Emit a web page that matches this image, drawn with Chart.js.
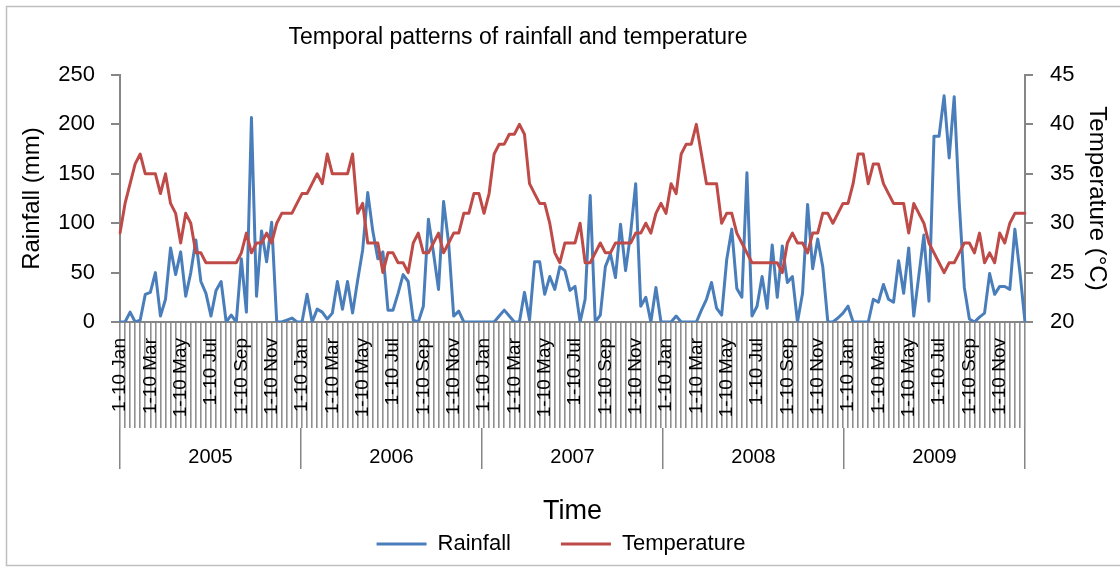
<!DOCTYPE html>
<html>
<head>
<meta charset="utf-8">
<script src="https://cdn.jsdelivr.net/npm/chart.js@4"></script>
<style>
  html, body { margin: 0; padding: 0; background: #fff; }
  #wrap { width: 1120px; height: 567px; position: relative; }
</style>
</head>
<body>
<div id="wrap"><canvas id="climateChart"></canvas></div>
<script>
// categories
var years = ['2005', '2006', '2007', '2008', '2009'];
var months = ['Jan', 'Feb', 'Mar', 'Apr', 'May', 'Jun', 'Jul', 'Aug', 'Sep', 'Oct', 'Nov', 'Dec'];
var dekads = ['1-10', '11-20', '21-31'];

// rainfall (mm) per dekad
var rain2005 = [0, 0, 10, 0, 2, 28, 30, 50, 6, 23, 75, 48, 71, 26, 50, 83, 41, 29, 6, 32, 41, 0, 7, 0, 64, 10, 207, 26, 92, 61, 101, 0, 0, 2, 4, 0];
var rain2006 = [0, 28, 0, 13, 10, 3, 9, 41, 13, 41, 9, 42, 73, 131, 92, 64, 71, 12, 12, 29, 48, 41, 2, 0, 16, 104, 70, 33, 122, 80, 6, 11, 0, 0, 0, 0];
var rain2007 = [0, 0, 0, 6, 12, 6, 0, 0, 30, 2, 61, 61, 28, 46, 33, 56, 52, 32, 36, 0, 23, 128, 0, 7, 56, 69, 45, 99, 52, 90, 140, 16, 25, 0, 35, 0];
var rain2008 = [0, 0, 6, 0, 0, 0, 0, 12, 23, 40, 14, 7, 63, 94, 34, 25, 151, 6, 16, 46, 14, 78, 25, 77, 40, 46, 0, 29, 119, 54, 84, 56, 0, 0, 4, 9];
var rain2009 = [16, 0, 0, 0, 0, 23, 20, 38, 23, 20, 62, 29, 75, 6, 47, 88, 21, 188, 188, 229, 166, 228, 120, 35, 3, 0, 5, 9, 49, 28, 36, 36, 33, 94, 50, 0];

// temperature (°C) per dekad
var temp2005 = [29, 32, 34, 36, 37, 35, 35, 35, 33, 35, 32, 31, 28, 31, 30, 27, 27, 26, 26, 26, 26, 26, 26, 26, 27, 29, 27, 28, 28, 29, 28, 30, 31, 31, 31, 32];
var temp2006 = [33, 33, 34, 35, 34, 37, 35, 35, 35, 35, 37, 31, 32, 28, 28, 28, 25, 27, 27, 26, 26, 25, 28, 29, 27, 27, 28, 29, 27, 28, 29, 29, 31, 31, 33, 33];
var temp2007 = [31, 33, 37, 38, 38, 39, 39, 40, 39, 34, 33, 32, 32, 30, 27, 26, 28, 28, 28, 30, 26, 26, 27, 28, 27, 27, 28, 28, 28, 28, 29, 29, 30, 29, 31, 32];
var temp2008 = [31, 34, 33, 37, 38, 38, 40, 37, 34, 34, 34, 30, 31, 31, 29, 28, 27, 26, 26, 26, 26, 26, 26, 25, 28, 29, 28, 28, 27, 29, 29, 31, 31, 30, 31, 32];
var temp2009 = [32, 34, 37, 37, 34, 36, 36, 34, 33, 32, 32, 32, 29, 32, 31, 30, 28, 27, 26, 25, 26, 26, 27, 28, 28, 27, 29, 26, 27, 26, 29, 28, 30, 31, 31, 31];

// axis ticks
var rainTicks = [0, 50, 100, 150, 200, 250];
var tempTicks = [20, 25, 30, 35, 40, 45];

var FONT = "'Liberation Sans', Arial, sans-serif";
var AXIS_GREY = '#868686';

// one label per dekad for every year
var labels = [];
years.forEach(function () {
    months.forEach(function (m) {
        dekads.forEach(function (d) {
            labels.push(d + ' ' + m);
        });
    });
});

var rainfall = rain2005.concat(rain2006, rain2007, rain2008, rain2009);
var temperature = temp2005.concat(temp2006, temp2007, temp2008, temp2009);

// outer frame and chart title
var framePlugin = {
    id: 'frame',
    beforeDraw: function (chart) {
        var c = chart.ctx;
        c.save();
        c.strokeStyle = '#bfbfbf';
        c.lineWidth = 1.5;
        c.beginPath();
        c.moveTo(chart.width + 2, 6.5);
        c.lineTo(6.5, 6.5);
        c.lineTo(6.5, 565.5);
        c.lineTo(chart.width + 2, 565.5);
        c.stroke();
        c.restore();
    },
    afterDraw: function (chart) {
        var c = chart.ctx;
        c.save();
        c.fillStyle = '#000';
        c.font = '23px ' + FONT;
        c.textAlign = 'center';
        c.textBaseline = 'middle';
        c.fillText('Temporal patterns of rainfall and temperature', 518, 38);
        c.restore();
    }
};

Chart.defaults.font.family = FONT;
Chart.defaults.color = '#000';

var ctx = document.getElementById('climateChart').getContext('2d');
new Chart(ctx, {
    type: 'line',
    data: {
        labels: labels,
        datasets: [{
            label: 'Rainfall',
            data: rainfall,
            yAxisID: 'y',
            borderColor: '#4A7EBB',
            backgroundColor: '#4A7EBB',
            borderWidth: 3,
            pointRadius: 0,
            tension: 0,
            borderJoinStyle: 'round',
            borderCapStyle: 'round',
            order: 1
        }, {
            label: 'Temperature',
            data: temperature,
            yAxisID: 'y1',
            borderColor: '#BE4B48',
            backgroundColor: '#BE4B48',
            borderWidth: 3,
            pointRadius: 0,
            tension: 0,
            borderJoinStyle: 'round',
            borderCapStyle: 'round',
            order: 0
        }]
    },
    options: {
        responsive: true,
        maintainAspectRatio: false,
        animation: false,
        layout: { padding: { top: 75, left: 8, right: 6, bottom: 2 } },
        plugins: {
            title: { display: false },
            tooltip: { enabled: false },
            legend: {
                position: 'bottom',
                labels: {
                    usePointStyle: true,
                    pointStyle: 'line',
                    pointStyleWidth: 50,
                    padding: 50,
                    font: { size: 22 },
                    color: '#000',
                    sort: function (a, b) { return a.datasetIndex - b.datasetIndex; }
                }
            }
        },
        scales: {
            x: {
                type: 'category',
                position: 'bottom',
                weight: 0,
                offset: false,
                grid: { drawOnChartArea: false, tickLength: 106, color: '#8f8f8f', lineWidth: 1.6 },
                border: { color: AXIS_GREY, width: 2 },
                ticks: {
                    autoSkip: false,
                    minRotation: 90,
                    maxRotation: 90,
                    padding: -90,
                    font: { size: 19 },
                    callback: function (v, i) {
                        return i % 6 === 0 ? this.getLabelForValue(v) : '';
                    }
                },
                afterFit: function (s) { s.height = 106; }
            },
            xYears: {
                axis: 'x',
                type: 'category',
                labels: years,
                position: 'bottom',
                weight: 1,
                offset: true,
                grid: { drawOnChartArea: false, offset: true, tickLength: 41, color: AXIS_GREY, lineWidth: 1.5 },
                border: { display: false },
                ticks: { autoSkip: false, maxRotation: 0, padding: -24, font: { size: 20 } },
                title: { display: true, text: 'Time', font: { size: 27 }, padding: { top: 0, bottom: -45 } },
                afterFit: function (s) { s.height = 55; }
            },
            y: {
                position: 'left',
                min: 0,
                max: 250,
                afterBuildTicks: function (s) { s.ticks = rainTicks.map(function (v) { return { value: v }; }); },
                grid: { drawOnChartArea: false, tickLength: 9, color: AXIS_GREY, lineWidth: 2 },
                border: { color: AXIS_GREY, width: 2 },
                ticks: { padding: 16, font: { size: 22 } },
                title: { display: true, text: 'Rainfall (mm)', font: { size: 24 }, padding: { top: 10, bottom: 0 } },
                afterFit: function (s) { s.width = 112; }
            },
            y1: {
                position: 'right',
                min: 20,
                max: 45,
                afterBuildTicks: function (s) { s.ticks = tempTicks.map(function (v) { return { value: v }; }); },
                grid: { drawOnChartArea: false, tickLength: 8, color: AXIS_GREY, lineWidth: 2 },
                border: { color: AXIS_GREY, width: 2 },
                ticks: { padding: 17, font: { size: 22 } },
                title: { display: true, text: 'Temperature (°C)', font: { size: 24 }, padding: { top: 3, bottom: 0 } },
                afterFit: function (s) { s.width = 89; }
            }
        }
    },
    plugins: [framePlugin]
});
</script>
</body>
</html>
